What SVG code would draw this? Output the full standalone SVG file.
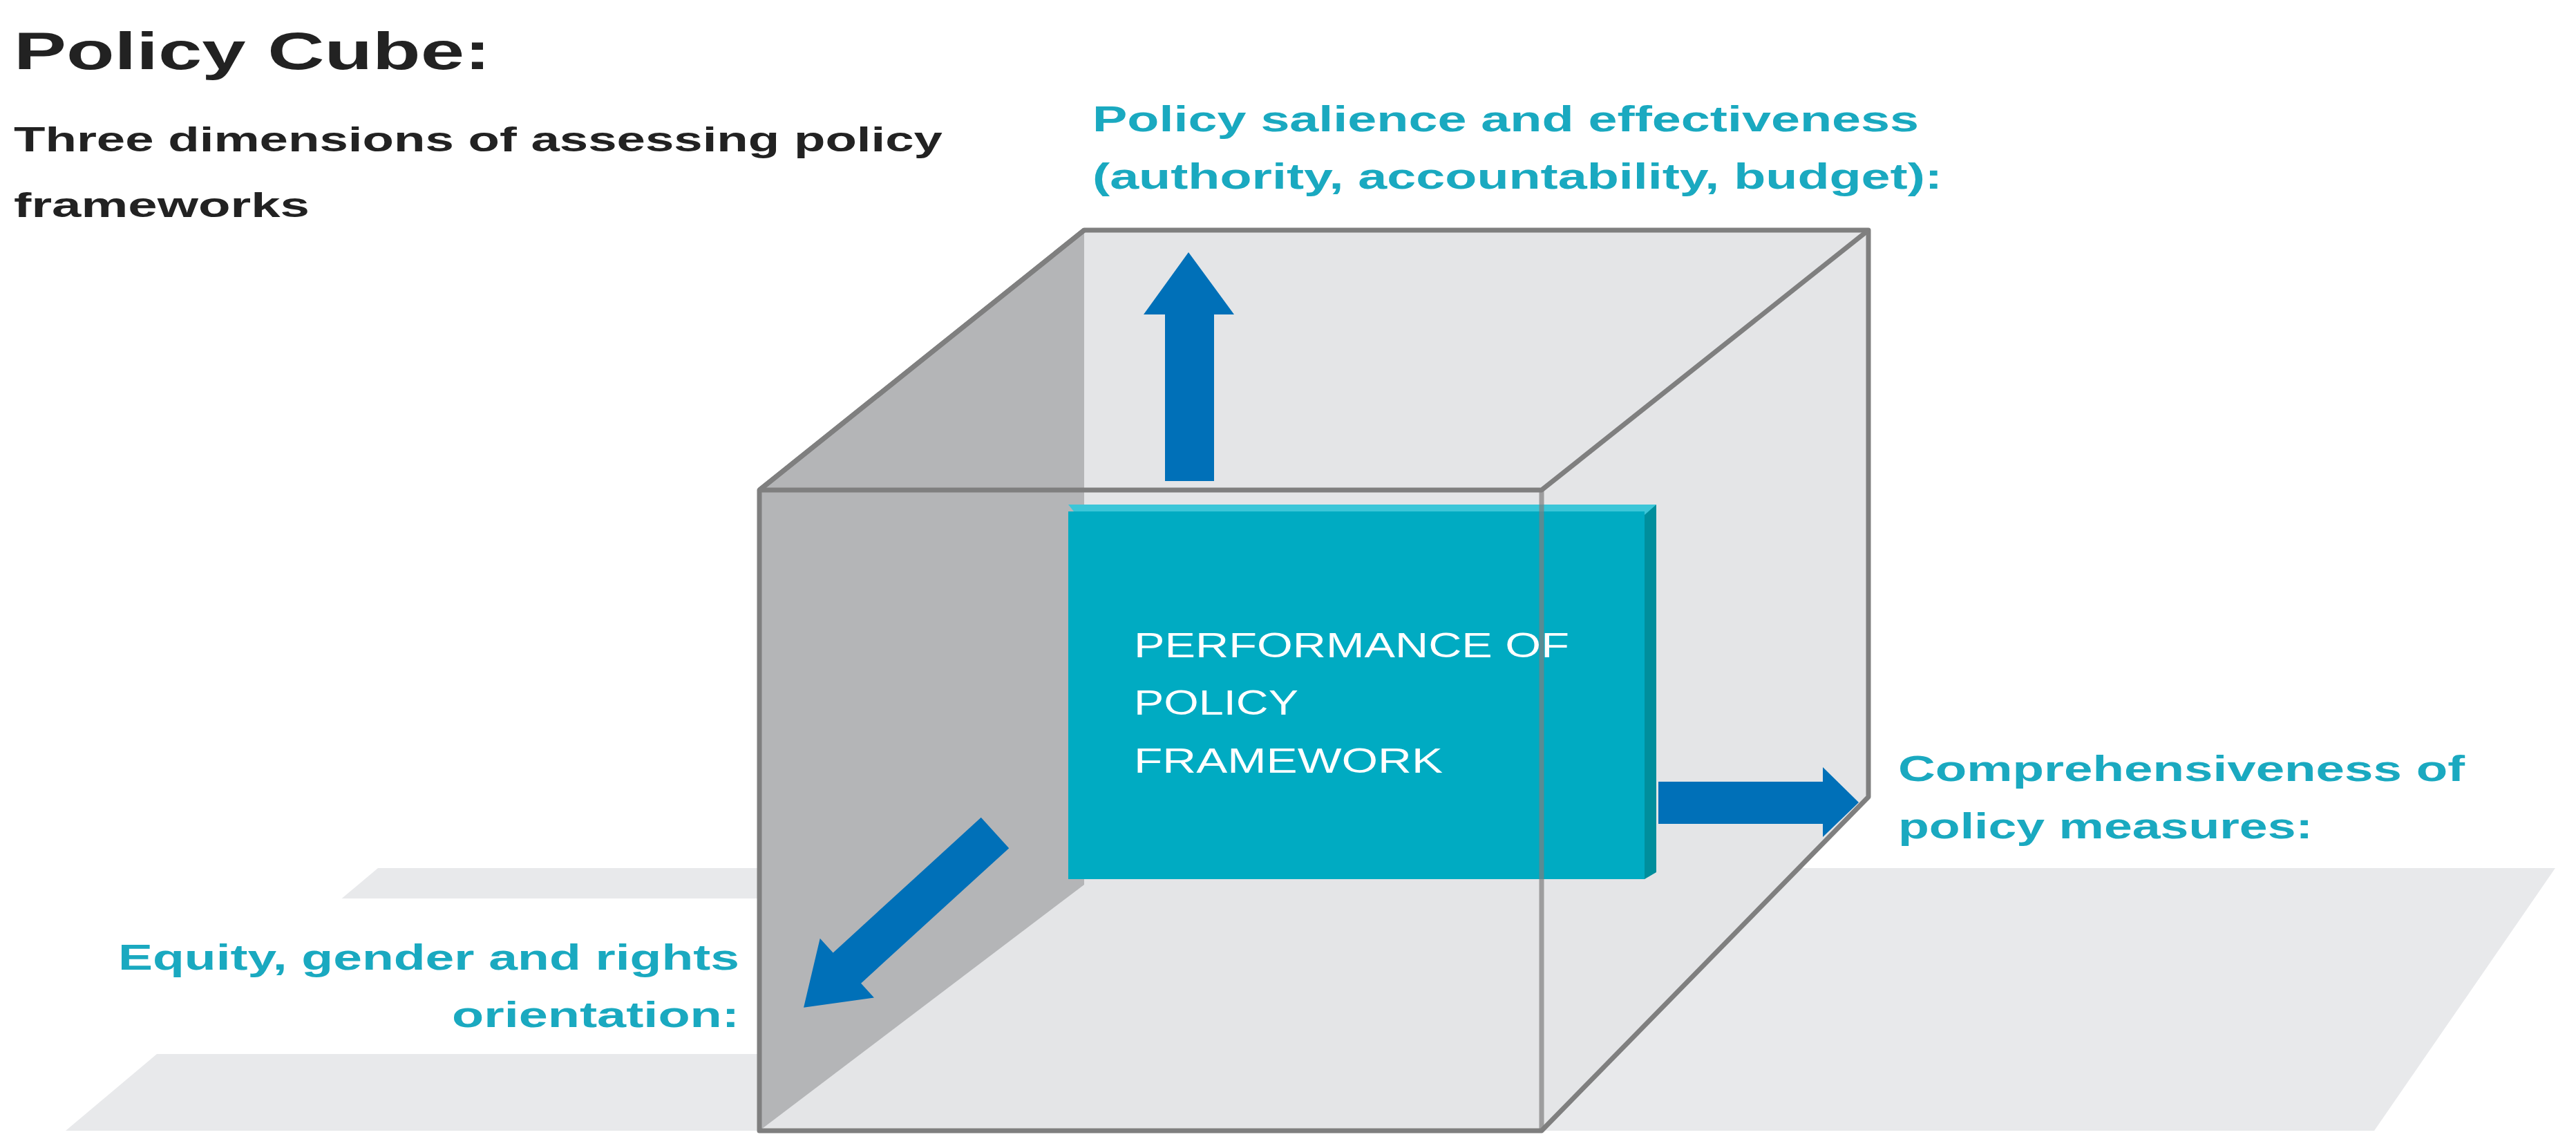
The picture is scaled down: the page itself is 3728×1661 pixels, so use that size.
<svg xmlns="http://www.w3.org/2000/svg" width="3728" height="1661" viewBox="0 0 3728 1661">
<style>
.t{font-family:"Liberation Sans",Arial,sans-serif;font-weight:bold}
.dark{fill:#222}
.teal{fill:#1aa9c0}
.box{fill:#fff;font-family:"Liberation Sans",Arial,sans-serif;font-size:50px}
.edge{fill:none;stroke:#7f7f7f;stroke-width:7;stroke-linejoin:round}
.arr{fill:#0070b8}
</style>
<rect width="3728" height="1661" fill="#fff"/>
<g id="floor">
<polygon points="547,1256 3698,1256 3436,1636 95,1636" fill="#e8e9eb"/>
<rect x="0" y="1300" width="1099" height="225" fill="#fff"/>
</g>
<g id="cube-back">
<polygon points="1569,333 2704,333 2704,1153 2231,1636 1099,1636 1099,709" fill="#e4e5e7"/>
<polygon points="1099,709 1569,333 1569,1280 1099,1636" fill="#b4b5b7"/>
</g>
<g id="node-performance">
<polygon points="1546,730 2397,730 2385,745 1558,745" fill="#3cc6d8"/>
<rect x="1546" y="740" width="834" height="532" fill="#00abc2"/>
<polygon points="2380,745 2397,730 2397,1262 2380,1272" fill="#008e9c"/>
<text class="box"><tspan x="1641" y="951" textLength="630" lengthAdjust="spacingAndGlyphs">PERFORMANCE OF</tspan><tspan x="1641" y="1034" textLength="238" lengthAdjust="spacingAndGlyphs">POLICY</tspan><tspan x="1641" y="1118" textLength="447" lengthAdjust="spacingAndGlyphs">FRAMEWORK</tspan></text>
</g>
<g id="connectors">
<polygon class="arr" points="1720,365 1786,455 1757,455 1757,696 1686,696 1686,455 1655,455"/>
<polygon class="arr" points="2400,1131 2638,1131 2638,1110 2690,1161 2638,1211 2638,1192 2400,1192"/>
<g transform="translate(1440,1205) rotate(137.6)">
<polygon class="arr" points="0,-30 290,-30 290,-58 375,0 290,58 290,30 0,30"/>
</g>
</g>
<g id="cube-edges">
<polygon class="edge" points="1569,333 2704,333 2704,1153 2231,1636 1099,1636 1099,709"/>
<polyline class="edge" points="1099,709 1569,333"/>
<polyline class="edge" points="1099,709 2231,709 2704,333"/>
<polyline class="edge" points="2231,709 2231,1636" opacity="0.7"/>
</g>
<g id="title">
<text class="t dark" x="20" y="100" font-size="76" textLength="690" lengthAdjust="spacingAndGlyphs">Policy Cube:</text>
<text class="t dark" x="20" y="219" font-size="50" textLength="1344" lengthAdjust="spacingAndGlyphs">Three dimensions of assessing policy</text>
<text class="t dark" x="20" y="314" font-size="50" textLength="428" lengthAdjust="spacingAndGlyphs">frameworks</text>
</g>
<g id="label-salience">
<text class="t teal" x="1581" y="190" font-size="52" textLength="1196" lengthAdjust="spacingAndGlyphs">Policy salience and effectiveness</text>
<text class="t teal" x="1581" y="273" font-size="52" textLength="1230" lengthAdjust="spacingAndGlyphs">(authority, accountability, budget):</text>
</g>
<g id="label-comprehensiveness">
<text class="t teal" x="2747" y="1130" font-size="52" textLength="820" lengthAdjust="spacingAndGlyphs">Comprehensiveness of</text>
<text class="t teal" x="2747" y="1213" font-size="52" textLength="600" lengthAdjust="spacingAndGlyphs">policy measures:</text>
</g>
<g id="label-equity">
<text class="t teal" x="171" y="1403" font-size="52" textLength="899" lengthAdjust="spacingAndGlyphs">Equity, gender and rights</text>
<text class="t teal" x="654" y="1486" font-size="52" textLength="416" lengthAdjust="spacingAndGlyphs">orientation:</text>
</g>
</svg>
